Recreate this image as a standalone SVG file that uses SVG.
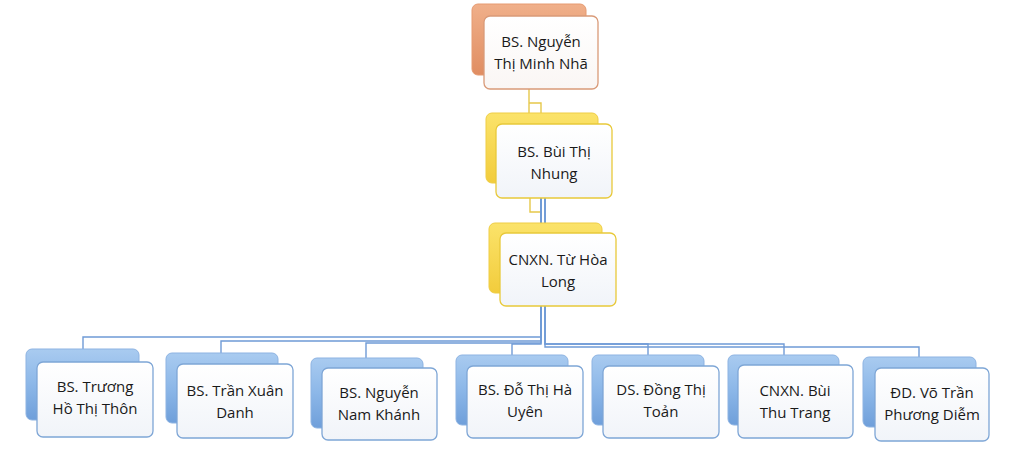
<svg xmlns="http://www.w3.org/2000/svg" width="1017" height="451" viewBox="0 0 1017 451">
<defs>
<linearGradient id="gBlueBack" x1="0" y1="0" x2="0" y2="1"><stop offset="0" stop-color="#a9cbf0"/><stop offset="0.5" stop-color="#8cb7e8"/><stop offset="1" stop-color="#6f9fda"/></linearGradient>
<linearGradient id="gOrangeBack" x1="0" y1="0" x2="0" y2="1"><stop offset="0" stop-color="#f0b08a"/><stop offset="1" stop-color="#e08d62"/></linearGradient>
<linearGradient id="gYellowBack" x1="0" y1="0" x2="0" y2="1"><stop offset="0" stop-color="#fbe36a"/><stop offset="1" stop-color="#f2cc3c"/></linearGradient>
<linearGradient id="gFront" x1="0" y1="0" x2="0" y2="1"><stop offset="0" stop-color="#ffffff"/><stop offset="1" stop-color="#f1f4f9"/></linearGradient>
<linearGradient id="gFrontWarm" x1="0" y1="0" x2="0" y2="1"><stop offset="0" stop-color="#ffffff"/><stop offset="1" stop-color="#faf6f4"/></linearGradient>
</defs>
<style>
.bb{fill:url(#gBlueBack);stroke:#8db3e2;stroke-width:1}
.ob{fill:url(#gOrangeBack);stroke:#e69a70;stroke-width:1}
.yb{fill:url(#gYellowBack);stroke:#efcd44;stroke-width:1}
.bf{fill:url(#gFront);stroke:#7ea6d6;stroke-width:1.3}
.of{fill:url(#gFrontWarm);stroke:#d99a78;stroke-width:1.3}
.yf{fill:url(#gFront);stroke:#e8c93a;stroke-width:1.3}
.t{font-family:"Open Sans","Liberation Sans",sans-serif;font-size:15px;fill:#1a1a1a;text-anchor:middle}
.cb{fill:none;stroke:#6f9bd6;stroke-width:1.4}
.cy{fill:none;stroke:#e6c84a;stroke-width:1.4}
</style>
<g id="connectors">
<path class="cy" d="M529,89 V124"/>
<path class="cy" d="M529,103 H541 V113"/>
<path class="cy" d="M530,198 V212 H541 V223"/>
<path class="cb" d="M541,198 V337 H83 V349"/>
<path class="cb" d="M541,198 V341 H221 V353"/>
<path class="cb" d="M541,198 V343 H366 V358"/>
<path class="cb" d="M541,198 V344 H512 V355"/>
<path class="cb" d="M545,198 V344 H648 V355"/>
<path class="cb" d="M545,198 V344 H784 V355"/>
<path class="cb" d="M545,198 V347 H919 V357"/>
</g>
<g id="n0">
<rect class="ob" x="472" y="4" width="114" height="71" rx="6"/>
<rect class="of" x="484" y="16" width="114" height="73" rx="6"/>
<text class="t" x="541" y="47">BS. Nguyễn</text>
<text class="t" x="541" y="69">Thị Minh Nhã</text>
</g>
<g id="n1">
<rect class="yb" x="486" y="113" width="112" height="70" rx="6"/>
<rect class="yf" x="496" y="124" width="116" height="74" rx="6"/>
<text class="t" x="554" y="157">BS. Bùi Thị</text>
<text class="t" x="554" y="179">Nhung</text>
</g>
<g id="n2">
<rect class="yb" x="489" y="223" width="113" height="70" rx="6"/>
<rect class="yf" x="500" y="233" width="116" height="73" rx="6"/>
<text class="t" x="558" y="265">CNXN. Từ Hòa</text>
<text class="t" x="558" y="287">Long</text>
</g>
<g id="n3">
<rect class="bb" x="26" y="349" width="113" height="71" rx="6"/>
<rect class="bf" x="37" y="362" width="116" height="75" rx="6"/>
<text class="t" x="95" y="392">BS. Trương</text>
<text class="t" x="95" y="414">Hồ Thị Thôn</text>
</g>
<g id="n4">
<rect class="bb" x="166" y="353" width="112" height="70" rx="6"/>
<rect class="bf" x="177" y="364" width="116" height="74" rx="6"/>
<text class="t" x="235" y="396">BS. Trần Xuân</text>
<text class="t" x="235" y="418">Danh</text>
</g>
<g id="n5">
<rect class="bb" x="311" y="358" width="112" height="70" rx="6"/>
<rect class="bf" x="322" y="368" width="115" height="72" rx="6"/>
<text class="t" x="379" y="398">BS. Nguyễn</text>
<text class="t" x="379" y="420">Nam Khánh</text>
</g>
<g id="n6">
<rect class="bb" x="456" y="355" width="112" height="70" rx="6"/>
<rect class="bf" x="467" y="366" width="116" height="72" rx="6"/>
<text class="t" x="525" y="395">BS. Đỗ Thị Hà</text>
<text class="t" x="525" y="417">Uyên</text>
</g>
<g id="n7">
<rect class="bb" x="592" y="355" width="112" height="70" rx="6"/>
<rect class="bf" x="603" y="366" width="116" height="72" rx="6"/>
<text class="t" x="661" y="395">DS. Đồng Thị</text>
<text class="t" x="661" y="417">Toản</text>
</g>
<g id="n8">
<rect class="bb" x="728" y="355" width="111" height="70" rx="6"/>
<rect class="bf" x="738" y="365" width="115" height="73" rx="6"/>
<text class="t" x="795" y="396">CNXN. Bùi</text>
<text class="t" x="795" y="418">Thu Trang</text>
</g>
<g id="n9">
<rect class="bb" x="863" y="357" width="113" height="70" rx="6"/>
<rect class="bf" x="875" y="368" width="114" height="73" rx="6"/>
<text class="t" x="932" y="398">ĐD. Võ Trần</text>
<text class="t" x="932" y="420">Phương Diễm</text>
</g>
</svg>
